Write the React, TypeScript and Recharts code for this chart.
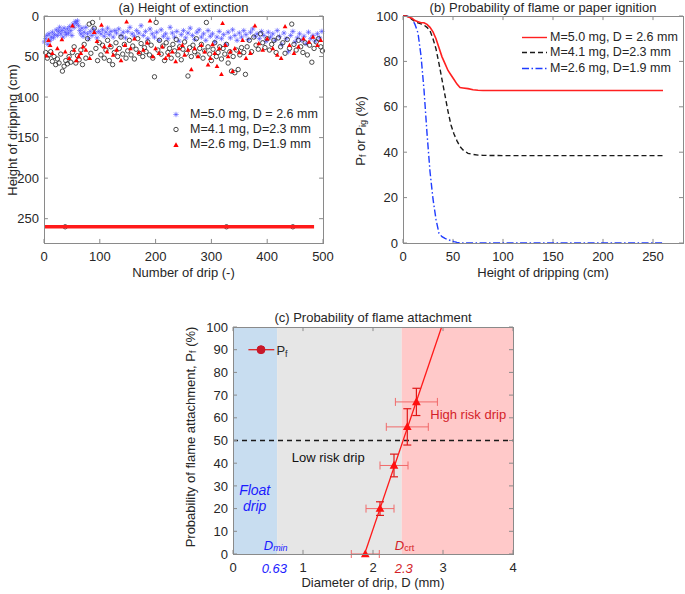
import React from "react";
import {
  ScatterChart,
  Scatter,
  LineChart,
  Line,
  XAxis,
  YAxis,
  Legend,
  Label,
  ReferenceArea,
  ReferenceLine,
  ReferenceDot,
  ErrorBar
} from "recharts";

const FONT = "'Liberation Sans', Arial, Helvetica, sans-serif";
const INK = "#262626";
const FRAME = "#8a8a8a";

// (a) height of extinction: [drip number, height of dripping in cm]
const starDrips: [number, number][] = [
  [1, 32], [3, 28], [5, 24], [7, 35], [9, 22], [11, 30], [13, 26], [15, 20], [17, 27], [19, 23],
  [22, 17], [24, 24], [26, 19], [28, 14], [30, 22], [32, 18], [34, 26], [36, 15], [38, 20], [40, 23],
  [42, 16], [44, 21], [46, 13], [48, 18], [50, 24], [52, 10], [54, 14], [56, 7], [58, 9], [60, 6],
  [62, 12], [64, 18], [66, 22], [68, 15], [70, 25], [72, 20], [75, 14], [78, 22], [80, 28], [83, 19],
  [86, 24], [89, 16], [92, 21], [95, 27], [98, 19], [102, 22], [105, 17], [108, 25], [111, 20], [114, 15],
  [117, 23], [120, 19], [124, 26], [127, 18], [130, 21], [134, 16], [138, 24], [142, 20], [146, 27], [150, 19],
  [154, 14], [158, 22], [162, 25], [166, 18], [170, 21], [174, 12], [178, 24], [182, 19], [186, 28], [190, 16],
  [194, 22], [198, 26], [202, 20], [206, 30], [210, 17], [214, 25], [218, 22], [222, 28], [226, 14], [230, 21],
  [234, 26], [238, 19], [242, 31], [246, 23], [250, 18], [254, 27], [258, 21], [262, 15], [266, 24], [270, 29],
  [274, 20], [278, 17], [282, 26], [286, 22], [290, 30], [294, 18], [298, 25], [302, 22], [306, 32], [310, 26],
  [314, 19], [318, 28], [322, 23], [326, 35], [330, 20], [334, 27], [338, 17], [342, 24], [346, 30], [350, 21],
  [354, 26], [358, 18], [362, 23], [366, 29], [370, 20], [374, 16], [378, 25], [382, 22], [386, 28], [390, 19],
  [394, 24], [398, 31], [402, 20], [406, 26], [410, 22], [414, 30], [418, 18], [422, 25], [426, 35], [430, 21],
  [434, 28], [438, 44], [442, 24], [446, 19], [450, 32], [454, 27], [458, 22], [462, 30], [466, 25], [470, 34],
  [474, 20], [478, 28], [482, 24], [486, 31], [490, 22], [494, 27], [498, 19]
];

const circleDrips: [number, number][] = [
  [3, 45], [6, 52], [9, 48], [12, 44], [15, 56], [18, 50], [21, 60], [24, 53], [27, 58], [30, 47],
  [33, 68], [36, 62], [39, 55], [42, 59], [45, 50], [48, 57], [51, 45], [54, 38], [57, 58], [60, 49],
  [63, 54], [66, 42], [69, 60], [72, 35], [75, 52], [78, 28], [81, 10], [84, 46], [87, 8], [90, 15],
  [93, 40], [96, 55], [99, 33], [102, 48], [105, 36], [108, 52], [111, 42], [114, 30], [117, 55], [120, 38],
  [123, 60], [126, 45], [129, 33], [132, 50], [135, 40], [138, 26], [141, 47], [144, 35], [147, 52], [150, 43],
  [153, 30], [156, 48], [159, 37], [162, 53], [165, 41], [168, 28], [171, 46], [174, 34], [177, 50], [180, 39],
  [183, 44], [186, 32], [189, 48], [192, 36], [195, 52], [198, 75], [201, 8], [204, 42], [207, 30], [210, 47],
  [213, 37], [216, 55], [219, 33], [222, 45], [225, 40], [228, 52], [231, 35], [234, 43], [237, 29], [240, 48],
  [243, 38], [246, 54], [249, 41], [252, 32], [255, 46], [258, 74], [261, 39], [264, 50], [267, 36], [270, 44],
  [273, 28], [276, 48], [279, 40], [282, 35], [285, 52], [288, 43], [291, 8], [294, 38], [297, 47], [300, 55],
  [303, 41], [306, 33], [309, 50], [312, 45], [315, 38], [318, 53], [321, 40], [324, 47], [327, 35], [330, 58],
  [333, 44], [336, 68], [339, 50], [342, 70], [345, 42], [348, 66], [351, 48], [354, 39], [358, 45], [361, 72],
  [364, 38], [368, 30], [372, 44], [376, 26], [380, 36], [384, 41], [388, 22], [392, 33], [396, 39], [400, 28],
  [404, 42], [408, 35], [412, 30], [416, 45], [420, 27], [424, 38], [428, 33], [432, 46], [436, 29], [440, 40],
  [444, 10], [448, 35], [452, 42], [456, 30], [460, 38], [464, 45], [468, 33], [472, 48], [476, 36], [480, 57],
  [484, 40], [488, 32], [492, 28], [496, 38], [499, 43],
  [38, 260], [327, 260], [446, 260]
];

const triangleDrips: [number, number][] = [
  [4, 49], [8, 30], [11, 36], [15, 46], [24, 40], [32, 29], [38, 44], [45, 52], [51, 12], [54, 42],
  [58, 55], [62, 50], [66, 46], [70, 38], [75, 42], [82, 52], [90, 20], [95, 31], [103, 11], [108, 38],
  [113, 44], [118, 36], [124, 48], [130, 42], [138, 55], [145, 36], [148, 7], [155, 40], [162, 28], [170, 45],
  [178, 42], [185, 33], [190, 6], [195, 50], [200, 40], [206, 46], [212, 38], [218, 52], [223, 48], [230, 44],
  [236, 56], [242, 40], [248, 36], [252, 48], [258, 42], [264, 66], [270, 40], [276, 50], [282, 36], [288, 44],
  [294, 60], [298, 52], [302, 35], [306, 46], [310, 62], [314, 40], [318, 72], [320, 9], [325, 36], [330, 50],
  [334, 44], [338, 68], [342, 40], [350, 45], [356, 30], [362, 52], [370, 46], [378, 12], [385, 34], [392, 42],
  [400, 28], [410, 40], [418, 48], [425, 52], [432, 13], [440, 36], [448, 46], [456, 38], [465, 28], [475, 32],
  [482, 26], [490, 36], [496, 30]
];

// drips that fell the whole way (dense row at 260 cm)
const floorRow: [number, number][] = [[0, 260], [484, 260]];

const dripTicks = [0, 100, 200, 300, 400, 500];
const heightTicks = [0, 50, 100, 150, 200, 250];
const seriesNames = ["M=5.0 mg, D = 2.6 mm", "M=4.1 mg, D=2.3 mm", "M=2.6 mg, D=1.9 mm"];

// (b) probability of flame or paper ignition vs height of dripping
const dropHeights = [0, 3, 6, 9, 12, 15, 18, 21, 24, 27, 30, 33, 36, 39, 42, 45, 48, 51, 54, 57, 60, 65, 70, 75, 80, 100, 150, 200, 260];
const probM50 = [100, 100, 99.5, 99, 98, 97.5, 97, 97, 96.3, 95, 93, 90, 86, 82, 79, 76, 74, 72, 70, 68.5, 68.3, 68, 67.5, 67.3, 67.2, 67.2, 67.2, 67.2, 67.2];
const probM41 = [100, 100, 99.5, 98.5, 97.5, 97, 96.5, 96, 95, 93.5, 90, 85.5, 79, 72, 65, 58, 52, 48, 45, 42.5, 41, 39.5, 39, 38.7, 38.6, 38.5, 38.5, 38.5, 38.5];
const probM26 = [100, 100, 99.7, 98.7, 96.3, 92.5, 82.5, 67.5, 48.4, 31.5, 19.4, 10.4, 4.2, 2.8, 2, 1.5, 1, 0.6, 0.3, 0.1, 0, 0, 0, 0, 0, 0, 0, 0, 0];
const dropTicks = [0, 50, 100, 150, 200, 250];
const probTicks = [0, 20, 40, 60, 80, 100];

// (c) probability of flame attachment vs drip diameter
const diameters = [1.89, 2.1, 2.3, 2.49, 2.62];
const attachPct = [0, 20, 39, 56, 67];
const diamErr = [0.2, 0.2, 0.2, 0.3, 0.3];
const attachErr = [0, 3, 5, 8, 6];
const fitDiam = [1.88, 2.98];
const fitPct = [0, 100];
const diamTicks = [0, 1, 2, 3, 4];
const pctTicks = [0, 10, 20, 30, 40, 50, 60, 70, 80, 90, 100];
const floatLimit = 0.63;
const critLimit = 2.41;

const tickFont = { fill: INK, fontSize: 13, fontFamily: FONT };
const textFont = { fill: INK, fontSize: 13, fontFamily: FONT };

const noLines = { axisLine: false, tickLine: false };

// inward tick marks on all four sides, as short reference segments in data units
// xs/ys: [left, right] / [bottom, top] values; dx/dy: inward tick length in data units
function innerTicks(xs: number[], ys: number[], xt: number[], yt: number[], dx: number, dy: number) {
  const common = { stroke: FRAME, strokeWidth: 1, ifOverflow: "visible" as const };
  const [xl, xr] = xs;
  const [yb, ytop] = ys;
  const out: React.ReactNode[] = [];
  xt.forEach((v) => {
    out.push(<ReferenceLine key={`tb${v}`} segment={[{ x: v, y: yb }, { x: v, y: yb + dy }]} {...common} />);
    out.push(<ReferenceLine key={`tt${v}`} segment={[{ x: v, y: ytop }, { x: v, y: ytop - dy }]} {...common} />);
  });
  yt.forEach((v) => {
    out.push(<ReferenceLine key={`tl${v}`} segment={[{ x: xl, y: v }, { x: xl + dx, y: v }]} {...common} />);
    out.push(<ReferenceLine key={`tr${v}`} segment={[{ x: xr, y: v }, { x: xr - dx, y: v }]} {...common} />);
  });
  return out;
}

// plot-area box, laid over each chart's plot rectangle
function Box({ left, top, width, height }: { left: number; top: number; width: number; height: number }) {
  return (
    <div
      style={{
        position: "absolute",
        left,
        top,
        width,
        height,
        border: `1px solid ${FRAME}`,
        boxSizing: "border-box",
        pointerEvents: "none"
      }}
    />
  );
}

const toPoints = (rows: [number, number][]) => rows.map(([d, h]) => ({ d, h }));

const Star = (p: any) => {
  const { cx, cy } = p;
  const r = 2.7;
  const k = r * 0.707;
  return (
    <g stroke="#5050ff" strokeWidth={0.9} strokeOpacity={0.7}>
      <line x1={cx - r} y1={cy} x2={cx + r} y2={cy} />
      <line x1={cx} y1={cy - r} x2={cx} y2={cy + r} />
      <line x1={cx - k} y1={cy - k} x2={cx + k} y2={cy + k} />
      <line x1={cx - k} y1={cy + k} x2={cx + k} y2={cy - k} />
    </g>
  );
};

const Ring = (p: any) => (
  <circle cx={p.cx} cy={p.cy} r={2.2} fill="none" stroke="#2a2a2a" strokeWidth={0.85} />
);

const tri = (cx: number, cy: number, s: number, fill: string) => (
  <polygon
    points={`${cx},${cy - s} ${cx - s * 0.95},${cy + s * 0.7} ${cx + s * 0.95},${cy + s * 0.7}`}
    fill={fill}
  />
);

const SmallTri = (p: any) => tri(p.cx, p.cy, 2.5, "#ff0000");
const BigTri = (p: any) => tri(p.cx, p.cy, 4.6, "#ff1010");
const NoMark = () => <g />;

function MarkerKey() {
  const marks = [
    <Star cx={7} cy={7.5} />,
    <Ring cx={7} cy={7.5} />,
    tri(7, 8, 2.8, "#ff0000")
  ];
  return (
    <div style={{ fontFamily: FONT, fontSize: 12.5, color: INK, lineHeight: "15px" }}>
      {seriesNames.map((name, i) => (
        <div key={name} style={{ display: "flex", alignItems: "center", whiteSpace: "nowrap" }}>
          <svg width={14} height={15}>{marks[i]}</svg>
          <span style={{ marginLeft: 7 }}>{name}</span>
        </div>
      ))}
    </div>
  );
}

const lineStyles = [
  { stroke: "#ff2020", dash: undefined },
  { stroke: "#1a1a1a", dash: "5 3" },
  { stroke: "#1f3cff", dash: "7 2.5 1.5 2.5" }
];

function LineKey() {
  return (
    <div style={{ fontFamily: FONT, fontSize: 12.5, color: INK, lineHeight: "15.5px" }}>
      {seriesNames.map((name, i) => (
        <div key={name} style={{ display: "flex", alignItems: "center", whiteSpace: "nowrap" }}>
          <svg width={25} height={15}>
            <line x1={0} y1={7.5} x2={25} y2={7.5} stroke={lineStyles[i].stroke} strokeWidth={1.4} strokeDasharray={lineStyles[i].dash} />
          </svg>
          <span style={{ marginLeft: 3 }}>{name}</span>
        </div>
      ))}
    </div>
  );
}

function ExtinctionChart() {
  return (
    <ScatterChart width={340} height={290} margin={{ top: 16, right: 17, bottom: 7, left: 10 }}>
      <XAxis type="number" dataKey="d" domain={[0, 500]} ticks={dripTicks} interval={0} height={40} tick={tickFont} tickSize={0} tickMargin={9} {...noLines}>
        <Label content={() => <text x={183.5} y={277} textAnchor="middle" {...textFont}>Number of drip (-)</text>} />
      </XAxis>
      <YAxis type="number" dataKey="h" domain={[0, 280]} reversed ticks={heightTicks} interval={0} width={34} tick={tickFont} tickSize={0} tickMargin={5} {...noLines}>
        <Label content={() => (
          <text x={12} y={130} transform="rotate(-90 12 130)" textAnchor="middle" dominantBaseline="central" {...textFont}>
            Height of dripping (cm)
          </text>
        )} />
      </YAxis>
      {innerTicks([0, 500], [280, 0], dripTicks, heightTicks, 7, -5)}
      <Scatter data={toPoints(starDrips)} shape={Star} isAnimationActive={false} />
      <Scatter data={toPoints(circleDrips)} shape={Ring} isAnimationActive={false} />
      <Scatter data={toPoints(floorRow)} shape={NoMark} line={{ stroke: "#ff1a1a", strokeWidth: 3.5 }} isAnimationActive={false} />
      <Scatter data={toPoints(triangleDrips)} shape={SmallTri} isAnimationActive={false} />
      <ReferenceDot x={250} y={0} r={1} fill="none" stroke="none" ifOverflow="visible"
        label={{ content: (p: any) => <text x={p.viewBox.x + p.viewBox.width / 2} y={12} textAnchor="middle" {...textFont}>(a) Height of extinction</text> }} />
      <Legend layout="horizontal" align="center" verticalAlign="middle" wrapperStyle={{ left: 169, top: 107, width: "auto" }} content={() => <MarkerKey />} />
    </ScatterChart>
  );
}

function IgnitionChart() {
  const rows = dropHeights.map((h, i) => ({ h, m50: probM50[i], m41: probM41[i], m26: probM26[i] }));
  return (
    <LineChart width={345} height={290} data={rows} margin={{ top: 16, right: 2, bottom: 7, left: 29 }}>
      <XAxis type="number" dataKey="h" domain={[0, 280]} ticks={dropTicks} interval={0} height={40} tick={tickFont} tickSize={0} tickMargin={9} {...noLines}>
        <Label content={() => <text x={203} y={277} textAnchor="middle" {...textFont}>Height of dripping (cm)</text>} />
      </XAxis>
      <YAxis type="number" domain={[0, 100]} ticks={probTicks} interval={0} width={34} tick={tickFont} tickSize={0} tickMargin={5} {...noLines}>
        <Label content={() => (
          <text x={20} y={131} transform="rotate(-90 20 131)" textAnchor="middle" dominantBaseline="central" {...textFont}>
            <tspan>P</tspan>
            <tspan dy={3} fontSize={9}>f</tspan>
            <tspan dy={-3}> or P</tspan>
            <tspan dy={3} fontSize={9}>ig</tspan>
            <tspan dy={-3}> (%)</tspan>
          </text>
        )} />
      </YAxis>
      {innerTicks([0, 280], [0, 100], dropTicks, probTicks, 4, 1.8)}
      <Line type="linear" dataKey="m26" stroke={lineStyles[2].stroke} strokeDasharray={lineStyles[2].dash} strokeWidth={1.4} dot={false} isAnimationActive={false} />
      <Line type="linear" dataKey="m41" stroke={lineStyles[1].stroke} strokeDasharray={lineStyles[1].dash} strokeWidth={1.4} dot={false} isAnimationActive={false} />
      <Line type="linear" dataKey="m50" stroke={lineStyles[0].stroke} strokeWidth={1.6} dot={false} isAnimationActive={false} />
      <ReferenceDot x={140} y={100} r={1} fill="none" stroke="none" ifOverflow="visible"
        label={{ content: (p: any) => <text x={p.viewBox.x + p.viewBox.width / 2} y={12} textAnchor="middle" {...textFont}>(b) Probability of flame or paper ignition</text> }} />
      <Legend layout="horizontal" align="center" verticalAlign="middle" wrapperStyle={{ left: 182, top: 29.5, width: "auto" }} content={() => <LineKey />} />
    </LineChart>
  );
}

const note = (content: React.ReactNode, style: any, dy = 0, anchor = "middle") => (props: any) => {
  const vb = props.viewBox || { x: 0, y: 0, width: 0, height: 0 };
  return (
    <text
      x={vb.x + vb.width / 2}
      y={vb.y + vb.height / 2 + dy}
      textAnchor={anchor}
      dominantBaseline="central"
      fontFamily={FONT}
      fontSize={13}
      {...style}
    >
      {content}
    </text>
  );
};

function AttachmentChart() {
  const points = diameters.map((d, i) => ({ d, p: attachPct[i], dx: diamErr[i], dy: attachErr[i] }));
  const blue = "#1b1bff";
  const red = "#d41e28";
  return (
    <ScatterChart width={345} height={299} margin={{ top: 32, right: 12, bottom: 2, left: 19 }}>
      <ReferenceArea x1={0} x2={floatLimit} fill="#c8ddf0" fillOpacity={1} ifOverflow="visible" />
      <ReferenceArea x1={floatLimit} x2={critLimit} fill="#e6e6e6" fillOpacity={1} ifOverflow="visible" />
      <ReferenceArea x1={critLimit} x2={4} fill="#ffc9c9" fillOpacity={1} ifOverflow="visible" />
      <XAxis type="number" dataKey="d" domain={[0, 4]} ticks={diamTicks} interval={0} height={38} tick={tickFont} tickSize={0} tickMargin={9} {...noLines}>
        <Label content={() => <text x={193} y={292} textAnchor="middle" {...textFont}>Diameter of drip, D (mm)</text>} />
      </XAxis>
      <YAxis type="number" dataKey="p" domain={[0, 100]} ticks={pctTicks} interval={0} width={34} tick={tickFont} tickSize={0} tickMargin={5} {...noLines}>
        <Label content={() => (
          <text x={10} y={142} transform="rotate(-90 10 142)" textAnchor="middle" dominantBaseline="central" {...textFont}>
            <tspan>Probability of flame attachment, P</tspan>
            <tspan dy={3} fontSize={9}>f</tspan>
            <tspan dy={-3}> (%)</tspan>
          </text>
        )} />
      </YAxis>
      <ReferenceLine y={50} stroke="#1a1a1a" strokeWidth={1.3} strokeDasharray="5 4" />
      <ReferenceLine
        segment={[{ x: fitDiam[0], y: fitPct[0] }, { x: fitDiam[1], y: fitPct[1] }]}
        stroke="#ff1a1a"
        strokeWidth={1.3}
        ifOverflow="visible"
      />
      <Scatter data={points} shape={BigTri} isAnimationActive={false}>
        <ErrorBar dataKey="dx" direction="x" width={4} stroke="#f06a6a" strokeWidth={1} />
        <ErrorBar dataKey="dy" direction="y" width={4} stroke="#e01818" strokeWidth={1.2} />
      </Scatter>
      <ReferenceLine segment={[{ x: 0.22, y: 90 }, { x: 0.59, y: 90 }]} stroke="#e02020" strokeWidth={1.3} ifOverflow="visible" />
      <ReferenceDot x={0.4} y={90} r={4} fill="#c8182a" stroke="#c8182a" ifOverflow="visible" />
      <ReferenceDot x={0.62} y={90} r={1} fill="none" stroke="none" ifOverflow="visible"
        label={{ content: note(<><tspan>P</tspan><tspan dy={4} fontSize={9}>f</tspan></>, { fill: INK }, 0, "start") }} />
      <ReferenceDot x={0.31} y={28} r={1} fill="none" stroke="none" ifOverflow="visible"
        label={{ content: note("Float", { fill: blue, fontStyle: "italic", fontSize: 14 }) }} />
      <ReferenceDot x={0.31} y={21} r={1} fill="none" stroke="none" ifOverflow="visible"
        label={{ content: note("drip", { fill: blue, fontStyle: "italic", fontSize: 14 }) }} />
      <ReferenceDot x={1.36} y={42.6} r={1} fill="none" stroke="none" ifOverflow="visible"
        label={{ content: note("Low risk drip", { fill: "#111" }) }} />
      <ReferenceDot x={3.36} y={61.3} r={1} fill="none" stroke="none" ifOverflow="visible"
        label={{ content: note("High risk drip", { fill: red }) }} />
      <ReferenceDot x={0.61} y={4} r={1} fill="none" stroke="none" ifOverflow="visible"
        label={{ content: note(<><tspan fontStyle="italic">D</tspan><tspan fontStyle="italic" fontSize={9} dy={3}>min</tspan></>, { fill: blue }) }} />
      <ReferenceDot x={2.45} y={4} r={1} fill="none" stroke="none" ifOverflow="visible"
        label={{ content: note(<><tspan fontStyle="italic">D</tspan><tspan fontSize={9} dy={3}>crt</tspan></>, { fill: red }) }} />
      <ReferenceDot x={0.59} y={0} r={1} fill="none" stroke="none" ifOverflow="visible"
        label={{ content: note("0.63", { fill: blue, fontStyle: "italic" }, 14) }} />
      <ReferenceDot x={2.44} y={0} r={1} fill="none" stroke="none" ifOverflow="visible"
        label={{ content: note("2.3", { fill: red, fontStyle: "italic" }, 14) }} />
      <ReferenceDot x={2} y={100} r={1} fill="none" stroke="none" ifOverflow="visible"
        label={{ content: (p: any) => <text x={p.viewBox.x + p.viewBox.width / 2} y={27} textAnchor="middle" {...textFont}>(c) Probability of flame attachment</text> }} />
      {innerTicks([0, 4], [0, 100], diamTicks, pctTicks, 0.057, 1.8)}
    </ScatterChart>
  );
}

export default function App() {
  return (
    <div style={{ position: "absolute", left: 0, top: 0, width: 685, height: 594, background: "#fff", overflow: "hidden" }}>
      <div style={{ position: "absolute", left: 0, top: 0 }}>
        <ExtinctionChart />
      </div>
      <div style={{ position: "absolute", left: 340, top: 0 }}>
        <IgnitionChart />
      </div>
      <div style={{ position: "absolute", left: 180, top: 295 }}>
        <AttachmentChart />
      </div>
      <Box left={43.5} top={15.5} width={280} height={228} />
      <Box left={402.5} top={15.5} width={281} height={228} />
      <Box left={232.5} top={326.5} width={281} height={228} />
    </div>
  );
}
